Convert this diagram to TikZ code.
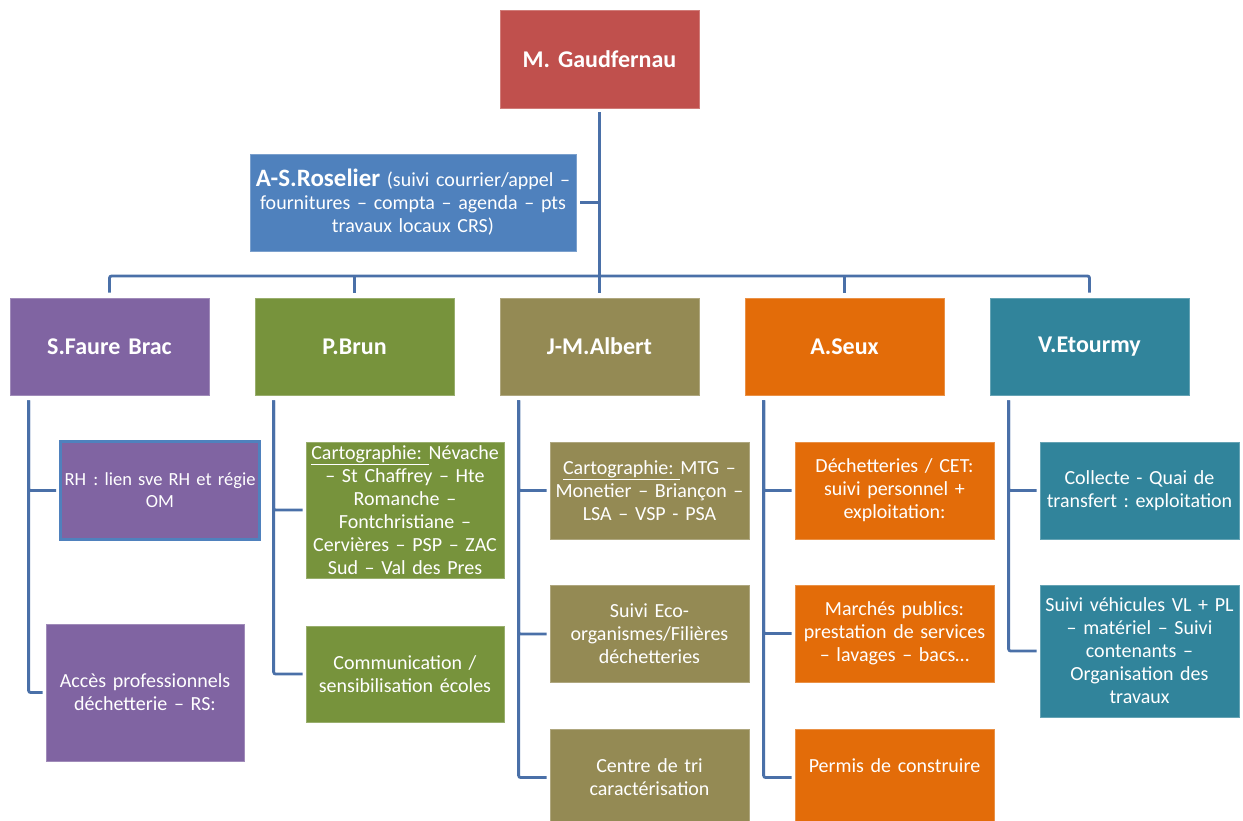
\documentclass[tikz,border=0pt]{standalone}
\usepackage{fontspec}
\setmainfont{Carlito}
\frenchspacing
\definecolor{chefred}{HTML}{C0504D}
\definecolor{assblue}{HTML}{4F81BD}
\definecolor{linkblue}{HTML}{4A70A8}
\definecolor{purp}{HTML}{8064A2}
\definecolor{grn}{HTML}{77933C}
\definecolor{olv}{HTML}{948A54}
\definecolor{orng}{HTML}{E36C09}
\definecolor{teal}{HTML}{31849B}
\tikzset{
  box/.style={rectangle, fill=#1, draw=#1!75!white, line width=0.8pt, text=white,
    align=center, inner sep=1pt, text width=197pt, minimum height=97pt,
    font=\fontsize{20}{23}\selectfont},
  chef/.style={box=#1, font=\bfseries\fontsize{24}{26}\selectfont},
  link/.style={draw=linkblue, line width=2.8pt, rounded corners=2pt},
}
\begin{document}
\begin{tikzpicture}[x=1pt,y=-1pt]
\useasboundingbox (0,0) rectangle (1243,821);
% direction
\node[chef=chefred, minimum height=98pt] (boss) at (599.5,59) {M. Gaudfernau};
\node[box=assblue, text width=324pt] (assist) at (413,202.5)
  {{\bfseries\fontsize{25}{24}\selectfont A-S.Roselier} (suivi courrier/appel --\\
   fournitures -- compta -- agenda -- pts\\ travaux locaux CRS)};
% responsables
\node[chef=purp] (sfb) at (109.5,346.5) {S.Faure Brac};
\node[chef=grn]  (pbr) at (354.5,346.5) {P.Brun};
\node[chef=olv]  (jma) at (599.5,346.5) {J-M.Albert};
\node[chef=orng] (ase) at (844.5,346.5) {A.Seux};
\node[chef=teal] (vet) at (1089.5,346.5) {V.Etourmy};
% missions
\node[box=purp, draw=assblue, line width=3pt, text width=199pt, inner sep=0pt, minimum height=98pt,
  font=\fontsize{18.5}{22}\selectfont] (rh) at (160,490.5)
  {\mbox{RH\hspace{0.4em}: lien sve RH et régie}\\ OM};
\node[box=purp, text width=196pt, minimum height=137pt] (acc) at (145,692.5)
  {Accès professionnels\\ déchetterie -- RS:};
\node[box=grn, text width=196pt, minimum height=136pt] (pcart) at (405,510)
  {\underline{Cartographie:\ }Névache\\ -- St Chaffrey -- Hte\\ Romanche --\\ Fontchristiane --\\ Cervières -- PSP -- ZAC\\ Sud -- Val des Pres};
\node[box=grn, text width=196pt, minimum height=96pt] (pcom) at (405,674)
  {Communication /\\ sensibilisation écoles};
\node[box=olv] (jcart) at (649.5,490.5)
  {\underline{Cartographie:\ }MTG --\\ Monetier -- Briançon --\\ LSA -- VSP - PSA};
\node[box=olv] (jeco) at (649.5,634) {Suivi Eco-\\ organismes/Filières\\ déchetteries};
\node[box=olv] (jtri) at (649.5,777.5) {Centre de tri\\ caractérisation};
\node[box=orng] (adec) at (894.5,490.5) {Déchetteries / CET:\\ suivi personnel +\\ exploitation:};
\node[box=orng] (amar) at (894.5,633.5) {Marchés publics:\\ prestation de services\\ -- lavages -- bacs\dots};
\node[box=orng] (aper) at (894.5,777.5) {Permis de construire\\ \mbox{}};
\node[box=teal] (vcol) at (1139.5,490.5) {Collecte - Quai de\\ transfert : exploitation};
\node[box=teal, minimum height=132pt] (vveh) at (1139.5,651)
  {Suivi véhicules VL + PL\\ -- matériel -- Suivi\\ contenants --\\ Organisation des\\ travaux};
% liaisons
\draw[link] ([yshift=-4pt]boss.south) -- ([yshift=5pt]jma.north);
\draw[link] ([xshift=4pt]assist.east) -- (assist.east -| boss.south);
\coordinate (bus) at (599.5,276);
\draw[link] ([yshift=5pt]sfb.north) |- (bus) -| ([yshift=5pt]vet.north);
\foreach \r in {pbr,ase} \draw[link] ([yshift=5pt]\r.north) -- (\r.north |- bus);
\foreach \r/\m in {sfb/rh,sfb/acc,pbr/pcart,pbr/pcom,jma/jcart,jma/jeco,jma/jtri,ase/adec,ase/amar,ase/aper,vet/vcol,vet/vveh}
  \draw[link, shorten >=3pt] ([xshift=19pt,yshift=-5pt]\r.south west) |- (\m.west);
\end{tikzpicture}
\end{document}
